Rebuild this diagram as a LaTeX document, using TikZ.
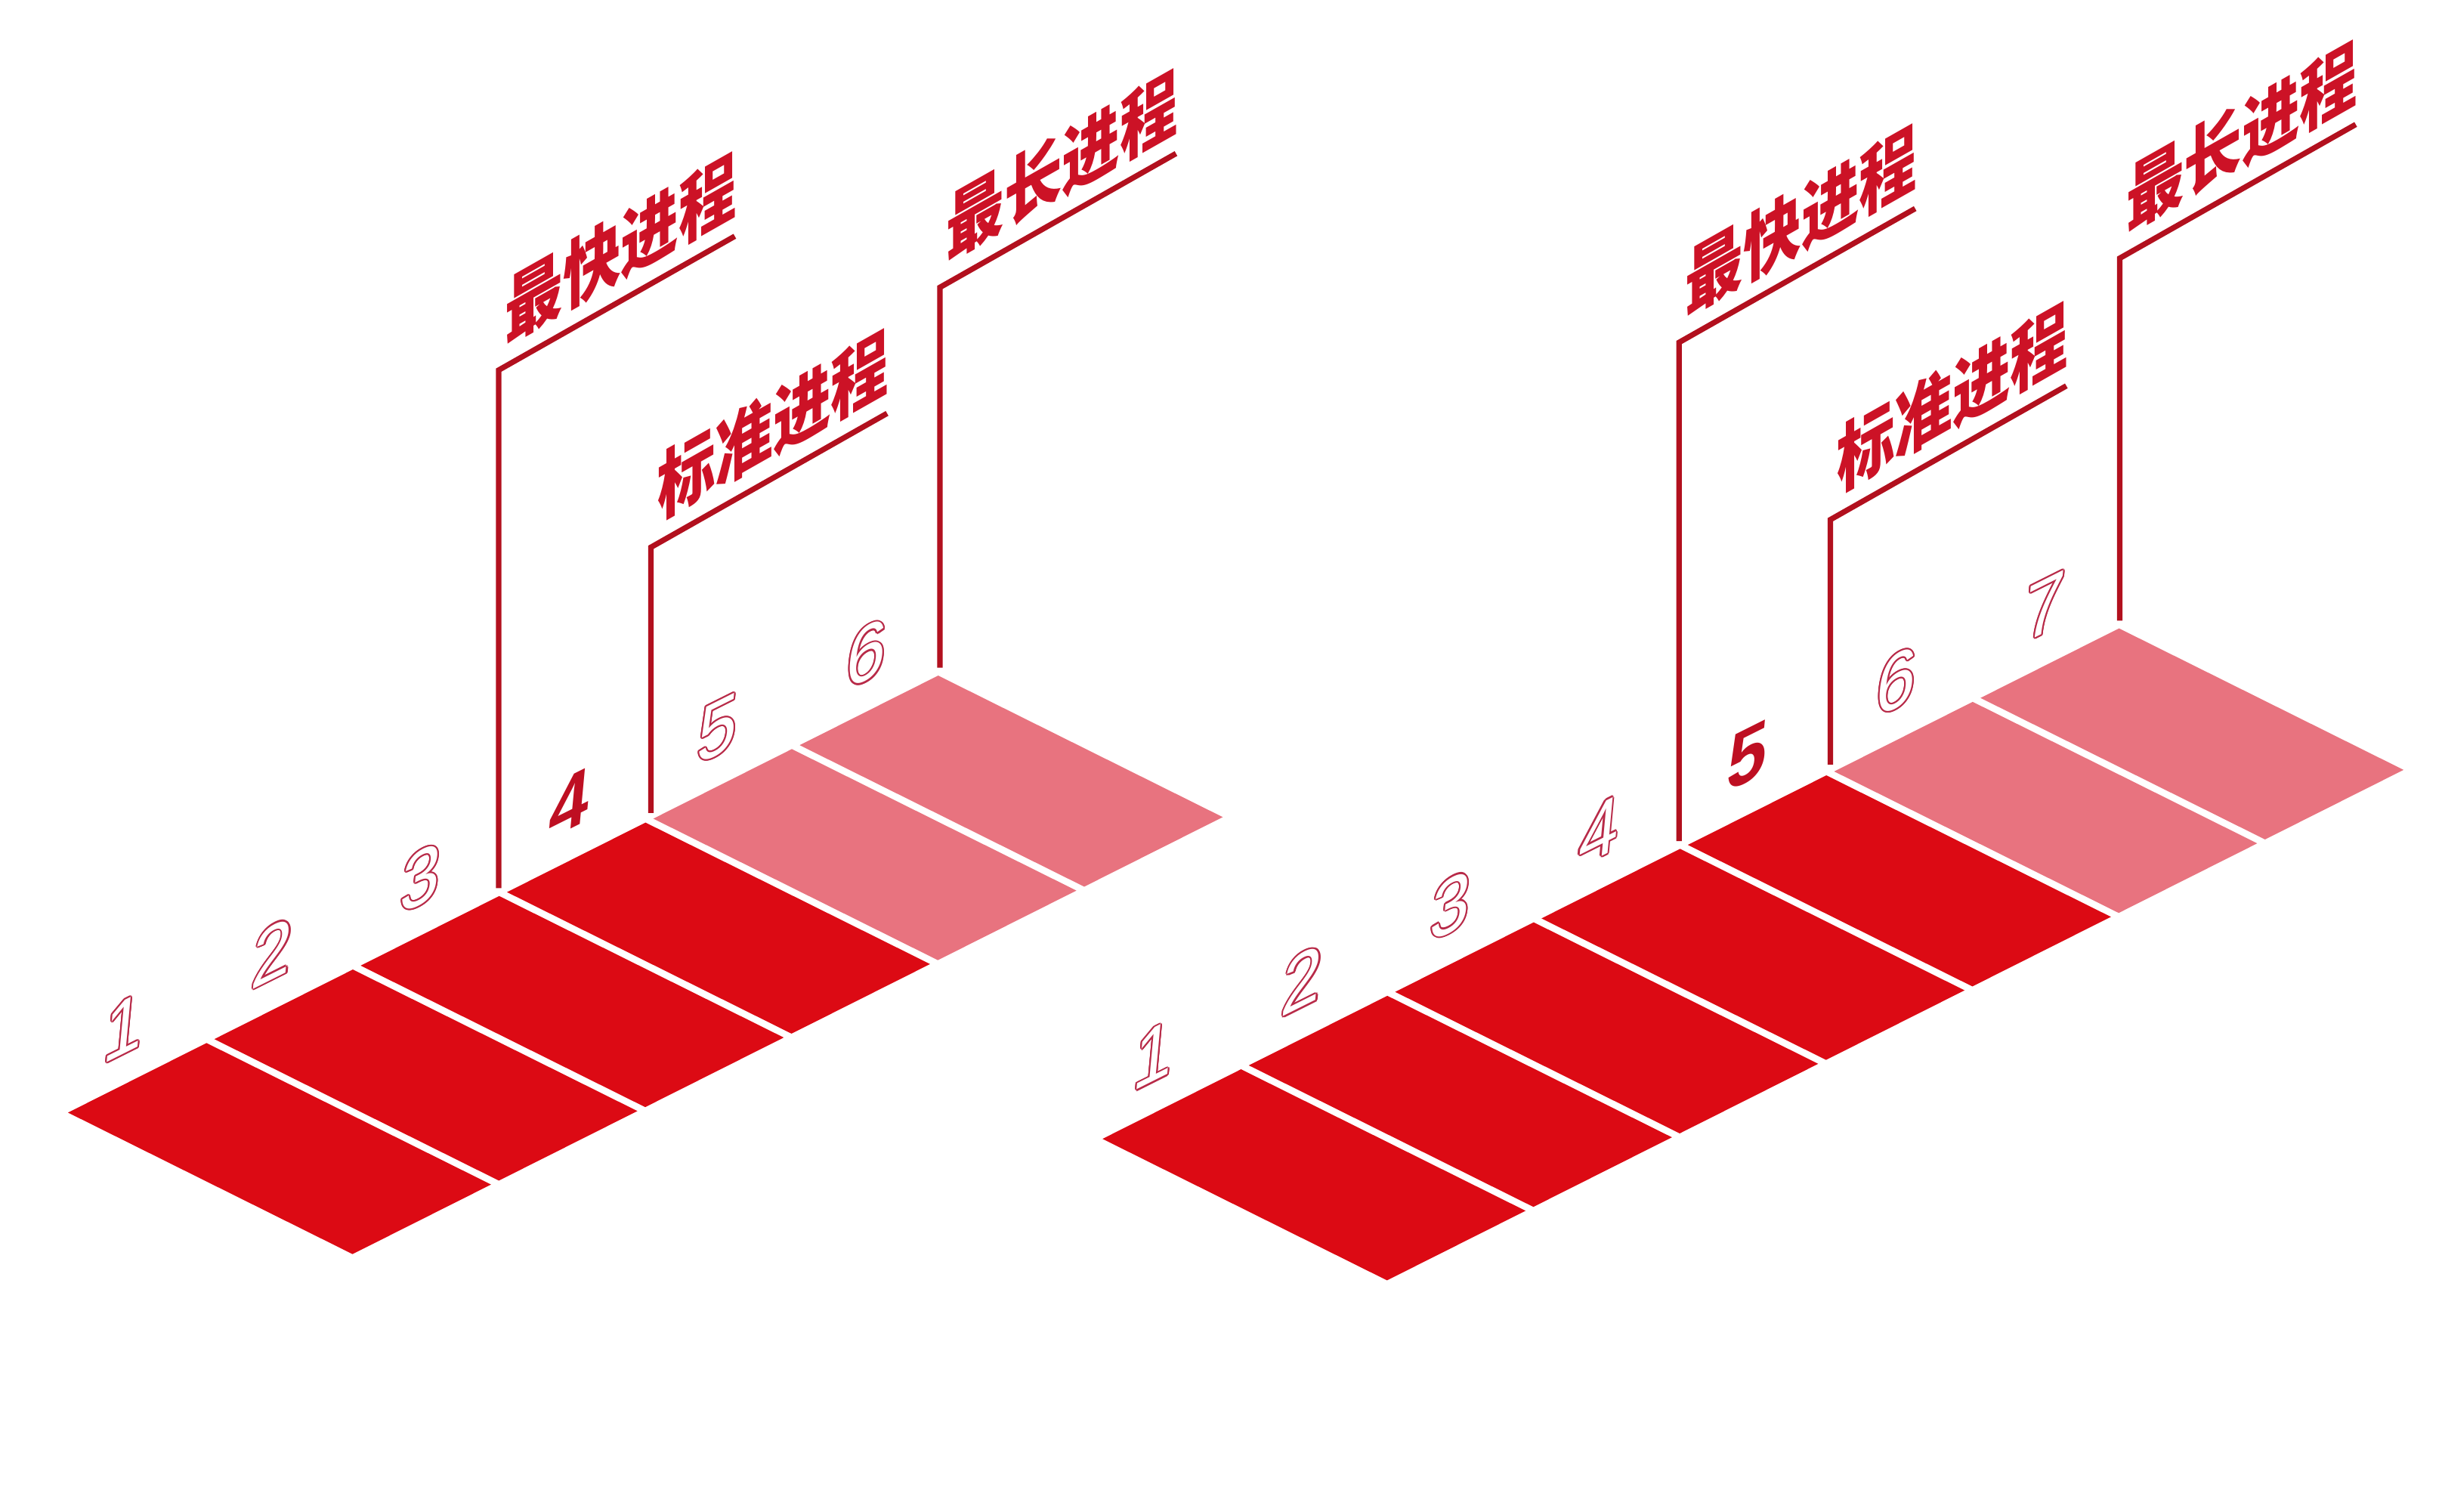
\documentclass[tikz,border=0pt]{standalone}
\usepackage{fontspec}
\newfontfamily\cjk{Noto Sans CJK SC}
\newfontfamily\digf{Liberation Sans}
\usetikzlibrary{calc}
\definecolor{tilered}{HTML}{DC0A14}
\definecolor{tilepink}{HTML}{E8737F}
\definecolor{linered}{HTML}{B2101E}
\definecolor{labred}{HTML}{CC1226}
\definecolor{digred}{HTML}{BE0F22}
\definecolor{digline}{HTML}{B82A48}
\tikzset{
  tileR/.style={fill=tilered},
  tileP/.style={fill=tilepink},
  pline/.style={draw=linered, line width=3.5pt, line join=miter},
  lab/.style={font=\cjk\bfseries\fontsize{37}{37}\selectfont, text=labred, inner sep=0pt,
    anchor=base west, transform shape, cm={1,0.567,0,1.3,(0,0)}},
  dig/.style={font=\digf\fontsize{48}{48}\selectfont, inner sep=0pt, anchor=center,
    transform shape, cm={0.95,0.475,0.1,1.08,(0,0)}},
  digB/.style={dig, font=\digf\bfseries\fontsize{48}{48}\selectfont, text=digred},
}
\newcommand\tilepg[2]{\fill[#2] (#1) -- ++(88.6,-44.5) -- ++(182,90.5) -- ++(-88.6,44.5) -- cycle;}
\newcommand\outdig[3]{%
  \foreach \a in {0,30,...,330}{\node[dig,text=digline] (#1o\a) at ($(#2)+(\a:1.05)$) {#3};}
  \node[dig,text=white] (#1) at (#2) {#3};}
\begin{document}
\begin{tikzpicture}[x=1pt,y=-1pt]
\path[use as bounding box, fill=white] (0,0) rectangle (1562,966.6);

% ---------- left diagram ----------
\coordinate (LA1) at (43.5,711.6);
\foreach \k in {2,...,6}{\coordinate (LA\k) at ($(LA1)+({(\k-1)*93.6},{(\k-1)*-47})$);}
\foreach \k in {1,...,4}{\tilepg{LA\k}{tileR}}
\foreach \k in {5,6}{\tilepg{LA\k}{tileP}}

\coordinate (LD1) at (79.3,657);
\foreach \k in {2,...,6}{\coordinate (LD\k) at ($(LD1)+({(\k-1)*95},{(\k-1)*-47.8})$);}
\outdig{Ln1}{LD1}{1}
\outdig{Ln2}{LD2}{2}
\outdig{Ln3}{LD3}{3}
\node[digB] (Ln4) at (LD4) {4};
\outdig{Ln5}{LD5}{5}
\outdig{Ln6}{LD6}{6}

\coordinate (LfB) at (319,568);   \coordinate (LfC) at (319,236.7);
\coordinate (LsB) at (416.4,520); \coordinate (LsC) at (416.4,350);
\coordinate (LlB) at (601.2,427); \coordinate (LlC) at (601.2,183.8);
\coordinate (LfE) at ($(LfC)+(151,-85.6)$);
\coordinate (LsE) at ($(LsC)+(151,-85.6)$);
\coordinate (LlE) at ($(LlC)+(151,-85.6)$);
\draw[pline] (LfB) -- (LfC) -- (LfE);
\draw[pline] (LsB) -- (LsC) -- (LsE);
\draw[pline] (LlB) -- (LlC) -- (LlE);
\node[lab] (Lft) at ($(LfC)+(4,-18)$) {最快进程};
\node[lab] (Lst) at ($(LsC)+(4,-18)$) {标准进程};
\node[lab] (Llt) at ($(LlC)+(4,-18)$) {最长进程};

% ---------- right diagram ----------
\coordinate (RA1) at (705.2,728.4);
\foreach \k in {2,...,7}{\coordinate (RA\k) at ($(RA1)+({(\k-1)*93.6},{(\k-1)*-47})$);}
\foreach \k in {1,...,5}{\tilepg{RA\k}{tileR}}
\foreach \k in {6,7}{\tilepg{RA\k}{tileP}}

\coordinate (RD1) at (738,674.6);
\foreach \k in {2,...,7}{\coordinate (RD\k) at ($(RD1)+({(\k-1)*95},{(\k-1)*-47.8})$);}
\outdig{Rn1}{RD1}{1}
\outdig{Rn2}{RD2}{2}
\outdig{Rn3}{RD3}{3}
\outdig{Rn4}{RD4}{4}
\node[digB] (Rn5) at (RD5) {5};
\outdig{Rn6}{RD6}{6}
\outdig{Rn7}{RD7}{7}

\coordinate (RfB) at (1074,538);    \coordinate (RfC) at (1074,219);
\coordinate (RsB) at (1170.7,489);  \coordinate (RsC) at (1170.7,332.4);
\coordinate (RlB) at (1355.8,397);  \coordinate (RlC) at (1355.8,165.2);
\coordinate (RfE) at ($(RfC)+(151,-85.6)$);
\coordinate (RsE) at ($(RsC)+(151,-85.6)$);
\coordinate (RlE) at ($(RlC)+(151,-85.6)$);
\draw[pline] (RfB) -- (RfC) -- (RfE);
\draw[pline] (RsB) -- (RsC) -- (RsE);
\draw[pline] (RlB) -- (RlC) -- (RlE);
\node[lab] (Rft) at ($(RfC)+(4,-18)$) {最快进程};
\node[lab] (Rst) at ($(RsC)+(4,-18)$) {标准进程};
\node[lab] (Rlt) at ($(RlC)+(4,-18)$) {最长进程};
\end{tikzpicture}
\end{document}
